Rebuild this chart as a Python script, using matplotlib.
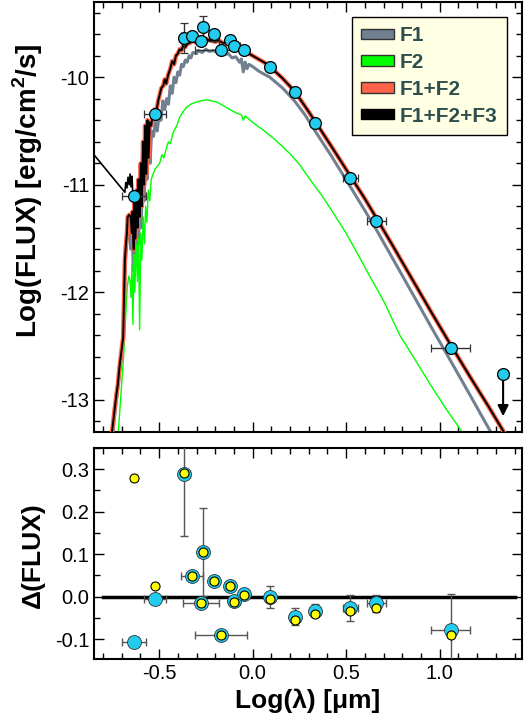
import numpy as np
import matplotlib.pyplot as plt
from matplotlib.patches import Patch
from matplotlib.ticker import MultipleLocator

plt.rcParams['font.family'] = ['Liberation Sans', 'DejaVu Sans']
plt.rcParams['mathtext.fontset'] = 'custom'
plt.rcParams['mathtext.rm'] = 'Liberation Sans'
plt.rcParams['mathtext.bf'] = 'Liberation Sans:bold'
plt.rcParams['axes.unicode_minus'] = False

# photometry: log(lambda), log(flux), errors
phot_wl = [-0.634, -0.523, -0.365, -0.324, -0.274, -0.263, -0.208, -0.170, -0.122,
           -0.097, -0.047, 0.092, 0.224, 0.334, 0.523, 0.662, 1.059]
phot_flux = [-11.108, -10.346, -9.636, -9.620, -9.664, -9.528, -9.595, -9.744, -9.657,
             -9.713, -9.750, -9.907, -10.139, -10.423, -10.935, -11.333, -12.519]
phot_xerr = [0.065, 0.06, 0.03, 0.058, 0.096, 0.0, 0.02, 0.138, 0.0,
             0.03, 0.0, 0.0, 0.0, 0.0, 0.04, 0.052, 0.104]
phot_yerr = [0.0, 0.0, 0.14, 0.0, 0.0, 0.10, 0.0, 0.0, 0.0,
             0.0, 0.0, 0.0, 0.0, 0.0, 0.0, 0.0, 0.03]

# upper limit
lim_wl = 1.339
lim_flux = -12.759
lim_xerr = 0.025

# residuals
res_model = [-0.108, -0.006, 0.288, 0.049, -0.014, 0.105, 0.037, -0.090, 0.026,
             -0.010, 0.006, 0.000, -0.047, -0.033, -0.027, -0.016, -0.079]
res_model3 = [0.279, 0.026, 0.291, 0.049, -0.014, 0.105, 0.037, -0.090, 0.026,
              -0.012, 0.004, -0.006, -0.055, -0.041, -0.035, -0.027, -0.090]
res_yerr = [0.0, 0.0, 0.146, 0.0, 0.0, 0.104, 0.0, 0.0, 0.0,
            0.01, 0.0, 0.026, 0.02, 0.015, 0.03, 0.02, 0.085]

# model F1
wl_f1 = [-0.75, -0.735, -0.72, -0.705, -0.692, -0.685, -0.678, -0.668, -0.658, -0.65,
         -0.644, -0.638, -0.63, -0.624, -0.616, -0.61, -0.602, -0.596, -0.588, -0.58,
         -0.572, -0.565, -0.556, -0.548, -0.54, -0.53, -0.52, -0.51, -0.5, -0.49,
         -0.48, -0.47, -0.46, -0.45, -0.44, -0.43, -0.42, -0.41, -0.4, -0.39,
         -0.38, -0.37, -0.36, -0.35, -0.34, -0.33, -0.32, -0.3, -0.29, -0.27,
         -0.25, -0.23, -0.21, -0.19, -0.17, -0.15, -0.13, -0.11, -0.09, -0.07,
         -0.06, -0.05, -0.04, -0.03, -0.02, 0.0, 0.03, 0.06, 0.092, 0.16,
         0.224, 0.28, 0.334, 0.42, 0.523, 0.6, 0.662, 0.75, 0.86, 0.96,
         1.059, 1.16, 1.26, 1.3, 1.33]
flux_f1 = [-13.35, -13.1, -12.88, -12.66, -12.45, -12.0, -11.65, -11.45, -11.42, -11.6,
           -11.35, -11.8, -11.3, -11.7, -11.2, -11.55, -11.0, -11.4, -10.85, -11.15,
           -10.65, -10.95, -10.55, -10.8, -10.5, -10.55, -10.42, -10.5, -10.35, -10.4,
           -10.22, -10.3, -10.2, -10.25, -10.08, -10.15, -10.0, -10.05, -9.95, -9.98,
           -9.88, -9.9, -9.84, -9.86, -9.8, -9.82, -9.77, -9.78, -9.75, -9.77,
           -9.74, -9.76, -9.75, -9.77, -9.76, -9.79, -9.78, -9.82, -9.81, -9.86,
           -9.83, -9.95, -9.86, -9.92, -9.88, -9.9, -9.94, -9.97, -10.0, -10.1,
           -10.22, -10.35, -10.5, -10.73, -11.02, -11.24, -11.42, -11.69, -12.03, -12.34,
           -12.64, -12.95, -13.26, -13.38, -13.45]

# model F2
wl_f2 = [-0.72, -0.71, -0.7, -0.69, -0.682, -0.675, -0.67, -0.662, -0.655, -0.65,
         -0.645, -0.64, -0.634, -0.63, -0.622, -0.616, -0.61, -0.604, -0.598, -0.592,
         -0.585, -0.578, -0.572, -0.565, -0.558, -0.55, -0.542, -0.532, -0.52, -0.51,
         -0.497, -0.485, -0.475, -0.461, -0.45, -0.44, -0.426, -0.415, -0.405, -0.39,
         -0.375, -0.354, -0.33, -0.3, -0.28, -0.247, -0.22, -0.193, -0.16, -0.122,
         -0.09, -0.06, -0.05, -0.04, 0.0, 0.056, 0.12, 0.199, 0.252, 0.306,
         0.37, 0.43, 0.5, 0.56, 0.626, 0.7, 0.787, 0.88, 0.965, 1.04,
         1.108, 1.13]
flux_f2 = [-13.35, -13.1, -12.85, -12.6, -12.35, -12.1, -11.95, -11.85, -11.9, -12.05,
           -11.75, -12.3, -11.65, -12.0, -11.55, -11.9, -11.5, -12.35, -11.45, -11.7,
           -11.3, -11.55, -11.2, -11.35, -11.05, -11.15, -10.95, -10.9, -10.85, -10.83,
           -10.8, -10.72, -10.75, -10.66, -10.6, -10.62, -10.52, -10.48, -10.45, -10.37,
           -10.33, -10.28, -10.25, -10.23, -10.22, -10.21, -10.22, -10.23, -10.26, -10.3,
           -10.33, -10.35, -10.4, -10.36, -10.42, -10.49, -10.58, -10.71, -10.815, -10.95,
           -11.1, -11.26, -11.45, -11.64, -11.85, -12.08, -12.4, -12.66, -12.9, -13.1,
           -13.27, -13.33]

# model F1+F2
wl_f12 = [-0.755, -0.745, -0.735, -0.728, -0.72, -0.712, -0.705, -0.698, -0.692, -0.688,
          -0.683, -0.678, -0.672, -0.668, -0.66, -0.652, -0.646, -0.642, -0.636, -0.632,
          -0.626, -0.62, -0.615, -0.61, -0.604, -0.598, -0.592, -0.586, -0.58, -0.575,
          -0.568, -0.562, -0.556, -0.55, -0.542, -0.535, -0.525, -0.515, -0.505, -0.495,
          -0.488, -0.478, -0.47, -0.462, -0.452, -0.44, -0.43, -0.42, -0.41, -0.4,
          -0.39, -0.38, -0.37, -0.36, -0.35, -0.335, -0.32, -0.3, -0.28, -0.26,
          -0.24, -0.22, -0.2, -0.18, -0.16, -0.14, -0.12, -0.1, -0.08, -0.06,
          -0.04, -0.02, 0.0, 0.03, 0.06, 0.092, 0.16, 0.224, 0.28, 0.334,
          0.42, 0.523, 0.6, 0.662, 0.75, 0.86, 0.96, 1.059, 1.16, 1.26,
          1.343, 1.38]
flux_f12 = [-13.35, -13.2, -13.05, -12.95, -12.85, -12.7, -12.6, -12.5, -12.42, -12.1,
            -11.7, -11.57, -11.45, -11.3, -11.28, -11.3, -11.45, -11.25, -11.6, -11.15,
            -11.5, -11.05, -11.4, -10.95, -11.3, -10.8, -11.2, -10.6, -11.0, -10.45,
            -10.9, -10.4, -10.75, -10.42, -10.45, -10.35, -10.3, -10.32, -10.22, -10.15,
            -10.1, -10.08, -10.02, -10.06, -9.98, -9.92, -9.85, -9.88, -9.8, -9.78,
            -9.74, -9.75, -9.7, -9.72, -9.69, -9.68, -9.66, -9.68, -9.65, -9.66,
            -9.65, -9.66, -9.67, -9.66, -9.68, -9.68, -9.69, -9.71, -9.72, -9.74,
            -9.76, -9.78, -9.8, -9.83, -9.86, -9.9, -10.01, -10.13, -10.27, -10.41,
            -10.64, -10.92, -11.13, -11.31, -11.57, -11.9, -12.2, -12.49, -12.78, -13.06,
            -13.3, -13.4]

# F3 (UV) part of F1+F2+F3
wl_f3 = [-0.87, -0.683, -0.678, -0.672, -0.666, -0.66, -0.655, -0.65, -0.645, -0.64]
flux_f3 = [-10.675, -11.07, -10.98, -11.03, -10.93, -11.0, -10.9, -11.02, -10.92, -11.1]

cyan = '#22CCEE'

fig = plt.figure(figsize=(5.31, 7.26), dpi=100)
ax1 = fig.add_axes([94 / 531, 1 - 432 / 726, 428 / 531, 430 / 726])
ax2 = fig.add_axes([94 / 531, 1 - 659 / 726, 428 / 531, 211 / 726])

ax1.plot(wl_f1, flux_f1, color='#708090', lw=2.2, zorder=2)
ax1.plot(wl_f2, flux_f2, color='#00FF00', lw=1.0, zorder=2)
ax1.plot(wl_f12, flux_f12, color='#FF6347', lw=3.2, zorder=3)
ax1.plot(wl_f12, flux_f12, color='black', lw=1.4, zorder=4)
ax1.plot(wl_f3, flux_f3, color='black', lw=1.2, zorder=4)

ax1.errorbar(phot_wl, phot_flux, xerr=phot_xerr, yerr=phot_yerr, fmt='o', ms=8.5,
             mfc=cyan, mec='black', mew=0.9, ecolor='#333333', elinewidth=1,
             capsize=3, zorder=6)
ax1.errorbar([lim_wl], [lim_flux], xerr=[lim_xerr], fmt='o', ms=8.5,
             mfc=cyan, mec='black', mew=0.9, ecolor='#333333', elinewidth=1,
             capsize=3, zorder=6)
ax1.annotate('', xy=(lim_wl, lim_flux - 0.42), xytext=(lim_wl, lim_flux),
             arrowprops=dict(arrowstyle='-|>', color='black', lw=1.5,
                             mutation_scale=16), zorder=5)

ax1.set_xlim(-0.848, 1.44)
ax1.set_ylim(-13.3, -9.3)
ax1.xaxis.set_major_locator(MultipleLocator(0.5))
ax1.xaxis.set_minor_locator(MultipleLocator(0.1))
ax1.yaxis.set_major_locator(MultipleLocator(1))
ax1.yaxis.set_minor_locator(MultipleLocator(0.2))
ax1.tick_params(labelbottom=False)
ax1.set_ylabel('Log(FLUX) [erg/cm$^{\\mathbf{2}}$/s]', fontsize=20, fontweight='bold')
ax1.yaxis.set_label_coords(-0.115, 0.56)

handles = [Patch(facecolor='#708090', edgecolor='#333333'),
           Patch(facecolor='#00FF00', edgecolor='#333333'),
           Patch(facecolor='#FF6347', edgecolor='#333333'),
           Patch(facecolor='black', edgecolor='black')]
leg = ax1.legend(handles, ['F1', 'F2', 'F1+F2', 'F1+F2+F3'], loc='upper right',
                 bbox_to_anchor=(0.965, 0.965), borderaxespad=0, fancybox=False,
                 framealpha=1, facecolor='#FFFFE4', edgecolor='black',
                 prop={'weight': 'bold', 'size': 15}, labelcolor='#2F4F4F',
                 handlelength=1.55, handleheight=0.4, handletextpad=0.3,
                 labelspacing=0.37, borderpad=0.45)
leg.get_frame().set_linewidth(1)

# residuals
ax2.plot([-0.8, 1.4], [0, 0], color='black', lw=2.5, zorder=2)
ax2.errorbar(phot_wl, res_model, xerr=phot_xerr, yerr=res_yerr, fmt='none',
             ecolor='#555555', elinewidth=1, capsize=3, zorder=3)
ax2.plot(phot_wl, res_model, 'o', ms=10, mfc=cyan, mec='#333333', mew=0.6, zorder=4)
ax2.plot(phot_wl, res_model3, 'o', ms=6.5, mfc='#FFFF00', mec='black', mew=0.8, zorder=5)

ax2.set_xlim(-0.848, 1.44)
ax2.set_ylim(-0.147, 0.35)
ax2.xaxis.set_major_locator(MultipleLocator(0.5))
ax2.xaxis.set_minor_locator(MultipleLocator(0.1))
ax2.yaxis.set_major_locator(MultipleLocator(0.1))
ax2.yaxis.set_minor_locator(MultipleLocator(0.05))
ax2.set_xlabel('Log(\u03bb) [\u03bcm]', fontsize=19, fontweight='bold')
ax2.set_ylabel('\u0394(FLUX)', fontsize=19, fontweight='bold')
ax2.yaxis.set_label_coords(-0.115, 0.49)

for ax in (ax1, ax2):
    ax.tick_params(which='both', direction='in', top=True, right=True, labelsize=14.5)
    ax.tick_params(which='major', length=7, width=1)
    ax.tick_params(which='minor', length=4, width=1)
    for s in ax.spines.values():
        s.set_linewidth(1.5)

ax2.yaxis.set_major_formatter(plt.FormatStrFormatter('%.1f'))
ax2.xaxis.set_major_formatter(plt.FormatStrFormatter('%.1f'))

fig.savefig('out.png', dpi=100)
